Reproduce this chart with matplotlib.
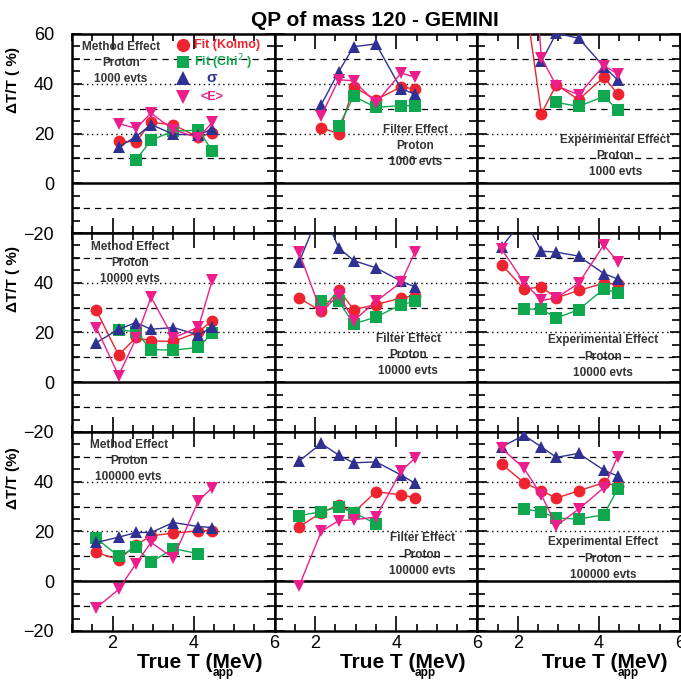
import numpy as np
import matplotlib
matplotlib.use('Agg')
import matplotlib.pyplot as plt
from matplotlib.ticker import MultipleLocator

plt.rcParams['font.family'] = ['Liberation Sans', 'DejaVu Sans']

nan = np.nan
t_app = [1.6, 2.15, 2.58, 2.95, 3.5, 4.12, 4.46]
n_evts = ['1000 evts', '10000 evts', '100000 evts']

# one row per statistics (1000, 10000, 100000 events)
method_kolmo = [[nan, 16.9, 16.6, 24.5, 23.5, 18.5, 20.3],
                [28.9, 10.9, 18.0, 16.6, 16.4, 20.2, 24.8],
                [11.6, 8.7, 14.5, 18.3, 19.3, 20.3, 20.3]]
method_chi2 = [[nan, nan, 9.4, 17.3, 21.0, 21.3, 13.1],
               [nan, 21.1, 20.3, 13.1, 12.9, 14.0, 19.8],
               [17.3, 10.0, 13.6, 7.7, 13.1, 11.1, nan]]
method_sigma = [[nan, 14.5, 18.8, 23.6, 19.7, 19.4, 21.8],
                [15.9, 21.3, 24.0, 21.3, 22.0, 19.0, 22.2],
                [15.6, 17.7, 19.6, 19.6, 23.6, 22.0, 21.6]]
method_emean = [[nan, 24.0, 22.1, 28.2, 21.5, 18.3, 24.5],
                [22.0, 2.7, 17.6, 34.2, 17.8, 22.2, 41.0],
                [-10.7, -3.3, 7.1, 15.6, 9.3, 32.4, 37.6]]

filter_kolmo = [[nan, 22.3, 19.9, 38.7, 33.6, 38.7, 37.9],
                [33.9, 28.5, 37.2, 29.2, 31.2, 33.9, 34.8],
                [21.8, 27.6, 30.7, 27.6, 36.0, 34.7, 33.6]]
filter_chi2 = [[nan, nan, 22.9, 34.9, 30.5, 31.2, 31.2],
               [nan, 32.5, 32.5, 23.5, 26.2, 31.2, 32.5],
               [26.3, 28.0, 29.8, 27.6, 23.1, nan, nan]]
filter_sigma = [[nan, 31.6, 44.9, 54.9, 56.0, 37.9, 35.9],
                [48.2, 70.0, 54.0, 48.9, 46.0, 40.6, 38.3],
                [48.3, 55.4, 50.7, 47.6, 48.0, 42.7, 39.4]]
filter_emean = [[nan, 27.2, 41.6, 41.2, 32.3, 44.3, 42.7],
                [52.3, 28.1, 35.2, 24.8, 32.5, 40.2, 52.3],
                [-2.0, 20.0, 24.4, 24.7, 25.8, 44.4, 49.4]]

exper_kolmo = [[nan, 78.0, 28.0, 39.6, 33.6, 42.7, 36.0],
               [47.3, 37.5, 38.3, 33.9, 36.9, 39.8, 39.5],
               [47.1, 39.6, 36.4, 33.4, 36.4, 39.6, 38.3]]
exper_chi2 = [[nan, nan, nan, 32.5, 30.9, 34.9, 29.6],
              [nan, 29.4, 29.4, 25.8, 29.2, 37.5, 35.9],
              [nan, 29.0, 28.0, 25.4, 25.0, 26.7, 37.0]]
exper_sigma = [[nan, nan, 49.0, 60.3, 58.3, 46.9, 41.6],
               [54.3, 66.0, 52.7, 52.3, 50.7, 43.7, 41.5],
               [54.0, 58.7, 54.0, 49.8, 51.4, 44.7, 42.3]]
exper_emean = [[nan, 140.0, 50.5, 39.2, 35.6, 47.3, 44.0],
               [53.5, 40.2, 32.9, 33.9, 39.8, 55.2, 48.5],
               [53.4, 45.4, 34.7, 22.3, 29.0, 37.6, 50.0]]

effects = ['Method Effect', 'Filter Effect', 'Experimental Effect']
series = [(method_kolmo, method_chi2, method_sigma, method_emean),
          (filter_kolmo, filter_chi2, filter_sigma, filter_emean),
          (exper_kolmo, exper_chi2, exper_sigma, exper_emean)]

red = '#ed2330'
green = '#10a84f'
blue = '#2e3192'
pink = '#ec1e8c'
styles = [(red, 'o', 8.5), (green, 's', 8.0), (blue, '^', 9.0), (pink, 'v', 9.0)]
names = ['Fit (Kolmo)', 'Fit (Chi$^2$ )', 'σ', '<E>']

# text block positions (axes fraction) for each [row][col]
text_pos = [[(0.24, 0.965), (0.695, 0.55), (0.68, 0.50)],
            [(0.285, 0.96), (0.66, 0.50), (0.62, 0.49)],
            [(0.28, 0.965), (0.73, 0.495), (0.62, 0.475)]]

fig, axes = plt.subplots(3, 3, figsize=(6.81, 6.81), dpi=100, sharex=True)
fig.subplots_adjust(left=72/681, right=680/681, bottom=1-631/681, top=1-34/681,
                    hspace=0, wspace=0)

for r in range(3):
    for c in range(3):
        ax = axes[r, c]
        ax.set_xlim(1, 6)
        ax.set_ylim(-20, 60)
        for y in (-10, 10, 30, 50):
            ax.axhline(y, color='black', lw=0.9, ls=(0, (5, 4)), zorder=1)
        for y in (20, 40):
            ax.axhline(y, color='black', lw=1.0, ls=(0, (1, 2.5)), zorder=1)
        ax.axhline(0, color='black', lw=1.8, zorder=1)

        for data, (col, mk, ms) in zip(series[c], styles):
            ax.plot(t_app, data[r], color=col, lw=1.0, marker=mk, ms=ms,
                    markeredgewidth=0, zorder=3)

        tx, ty = text_pos[r][c]
        ax.text(tx, ty, effects[c] + '\nProton\n' + n_evts[r], transform=ax.transAxes,
                ha='center', va='top', fontsize=8.5, fontweight='bold', color='#333333',
                linespacing=1.45, zorder=4)

        ax.xaxis.set_major_locator(MultipleLocator(2))
        ax.xaxis.set_minor_locator(MultipleLocator(0.5))
        ax.set_yticks([-20, 0, 20, 40, 60])
        ax.yaxis.set_minor_locator(MultipleLocator(5))
        ax.tick_params(which='both', direction='in', top=True, right=True, width=1.2)
        ax.tick_params(which='major', axis='x', length=11)
        ax.tick_params(which='minor', axis='x', length=5)
        ax.tick_params(which='major', axis='y', length=7)
        ax.tick_params(which='minor', axis='y', length=6)
        ax.tick_params(labelsize=13)
        ax.tick_params(axis='x', pad=3)
        ax.tick_params(axis='y', pad=13)
        for s in ax.spines.values():
            s.set_linewidth(1.8)

        if c == 0:
            ax.set_yticklabels(['−20', '0', '20', '40', '60' if r == 0 else ''])
            ax.set_ylabel('ΔT/T ( %)' if r < 2 else 'ΔT/T (%)', fontsize=11,
                          fontweight='bold')
            ax.yaxis.set_label_coords(-0.255, 0.77)
        else:
            ax.tick_params(labelleft=False)
        if r == 2:
            ax.set_xticks([2, 4, 6])
            ax.set_xticklabels(['2', '4', '6'])
            ax.text(0.63, -0.158, 'True T (MeV)', transform=ax.transAxes,
                    ha='center', va='center', fontsize=15, fontweight='bold')
            ax.text(0.745, -0.213, 'app', transform=ax.transAxes,
                    ha='center', va='center', fontsize=8.5, fontweight='bold')

# legend keys drawn by hand in the first panel
lax = axes[0, 0]
key_y = [0.945, 0.859, 0.779, 0.683]
for (col, mk, ms), ky, name in zip(styles, key_y, names):
    lax.plot([0.547], [ky], transform=lax.transAxes, color=col, marker=mk,
             ms=ms + 1, ls='none', markeredgewidth=0, clip_on=False, zorder=5)
    if name in ('σ', '<E>'):
        lax.text(0.69, ky, name, transform=lax.transAxes, ha='center', va='center',
                 color=col, fontweight='bold', fontsize=11 if name == 'σ' else 9)
    else:
        lax.text(0.603, ky, name, transform=lax.transAxes, ha='left', va='center',
                 color=col, fontweight='bold', fontsize=9)

fig.suptitle('QP of mass 120 - GEMINI', x=0.55, y=0.984, fontsize=15, fontweight='bold')

fig.savefig('out.png', dpi=100)
